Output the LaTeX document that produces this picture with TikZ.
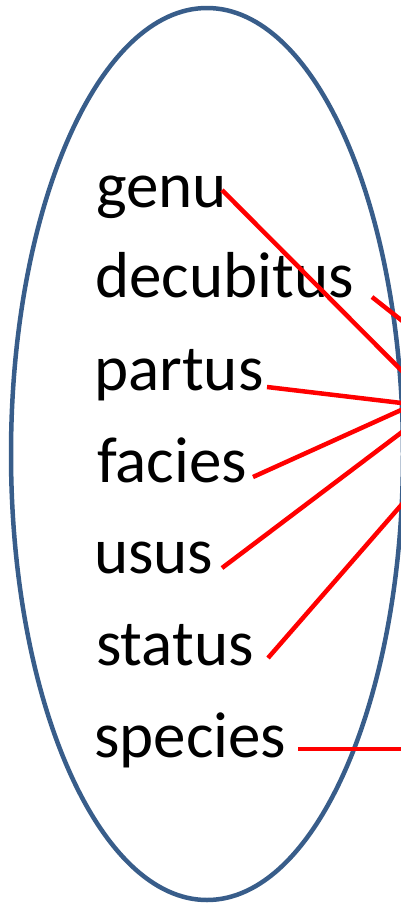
\documentclass[tikz,border=0pt]{standalone}
\usepackage{fontspec}
\setmainfont{Carlito}
\usepackage{xcolor}
\usepackage{tikz}
\usetikzlibrary{calc}
\usetikzlibrary{shapes.geometric}
\definecolor{rimblue}{RGB}{56,93,138}
\tikzset{word/.style = {anchor=base west, inner sep=0pt, font=\fontsize{65pt}{78pt}\selectfont}}
\tikzset{link/.style = {draw=red, line width=4.5pt}}

\begin{document}
\begin{tikzpicture}[x=1pt, y=-1pt]
\clip (0, 0) rectangle (401, 905);
\node [ellipse, draw=rimblue, line width=4.5pt, minimum width=392pt, minimum height=892pt, inner sep=0pt] (E) at (207, 454) {};
\node [word] (genu) at (96, 207) {genu};
\node [word] (decubitus) at (95, 297) {decubitus};
\node [word] (partus) at (94, 390) {partus};
\node [word] (facies) at (97, 482) {facies};
\node [word] (usus) at (94, 573) {usus};
\node [word] (status) at (96, 665) {status};
\node [word] (species) at (94, 757) {species};
% line ends, right of the words and off the right edge
\coordinate (genuA) at (222, 190);
\coordinate (genuB) at (410, 379);
\coordinate (decubitusA) at (372, 297);
\coordinate (decubitusB) at (410, 327);
\coordinate (partusA) at (267, 387);
\coordinate (partusB) at (410, 404);
\coordinate (faciesA) at (253, 477);
\coordinate (faciesB) at (410, 406);
\coordinate (ususA) at (222, 568);
\coordinate (ususB) at (410, 426);
\coordinate (statusA) at (268, 658);
\coordinate (statusB) at (410, 495);
\coordinate (speciesA) at (298, 749);
\coordinate (speciesB) at (410, 749);
\foreach \w in {genu, decubitus, partus, facies, usus, status, species}
  \draw [link] (\w A) to (\w B);
\end{tikzpicture}
\end{document}
